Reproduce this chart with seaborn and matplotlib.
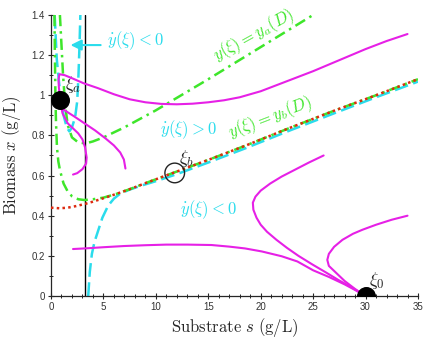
import matplotlib
matplotlib.use("Agg")
import matplotlib.pyplot as plt
import seaborn as sns
from matplotlib.ticker import MultipleLocator, FuncFormatter

# magenta trajectories (substrate s, biomass x)
traj_up_s = [0.88, 0.75, 0.72, 0.8, 1.3, 2.0, 3.1, 4.5, 6.0, 7.5, 9.0, 10.5, 12.0, 13.5, 15.0, 16.5,
             18.0, 20.0, 22.8, 25.0, 27.5, 30.0, 32.0, 34.0]
traj_up_x = [0.98, 1.04, 1.08, 1.105, 1.10, 1.085, 1.06, 1.035, 1.005, 0.98, 0.965, 0.957, 0.955, 0.958,
             0.965, 0.975, 0.99, 1.02, 1.076, 1.12, 1.175, 1.23, 1.27, 1.305]
traj_d_s = [0.86, 1.15, 2.2, 3.2, 4.2, 5.2, 6.0, 6.6, 6.95, 7.1]
traj_d_x = [0.975, 0.93, 0.895, 0.86, 0.825, 0.785, 0.75, 0.715, 0.68, 0.635]
traj_e_s = [0.86, 1.1, 1.6, 2.1, 2.6, 3.0, 3.25, 3.4, 3.35, 3.0, 2.5, 2.1]
traj_e_x = [0.975, 0.91, 0.86, 0.835, 0.81, 0.78, 0.74, 0.69, 0.66, 0.632, 0.612, 0.605]
traj_flat_s = [2.1, 3.2, 5.0, 7.0, 9.0, 11.0, 13.0, 15.3, 17.0, 18.5, 20.1, 22.0, 23.5, 25.0, 26.5,
               28.0, 29.0, 30.0]
traj_flat_x = [0.234, 0.237, 0.243, 0.249, 0.253, 0.256, 0.256, 0.254, 0.246, 0.237, 0.222, 0.198,
               0.172, 0.128, 0.095, 0.058, 0.03, 0.0]
traj_a_s = [26.0, 24.6, 23.3, 22.0, 20.9, 20.0, 19.5, 19.25, 19.3, 19.6, 20.0, 20.6, 21.5, 22.5,
            23.6, 24.9, 26.2, 27.4, 28.6, 30.0]
traj_a_x = [0.70, 0.665, 0.63, 0.595, 0.56, 0.525, 0.495, 0.465, 0.43, 0.39, 0.355, 0.32, 0.28, 0.24,
            0.2, 0.158, 0.118, 0.08, 0.045, 0.0]
traj_c_s = [34.0, 32.5, 31.0, 29.7, 28.8, 27.8, 27.0, 26.5, 26.35, 26.5, 27.2, 28.0, 29.0, 30.0]
traj_c_x = [0.40, 0.38, 0.355, 0.33, 0.31, 0.28, 0.245, 0.21, 0.18, 0.15, 0.115, 0.075, 0.035, 0.0]

# ydot = 0 curves (cyan)
ydot_loop_s = [0.35, 0.55, 0.85, 1.2, 1.5, 1.75, 2.0, 2.3, 2.5, 2.62, 2.72, 2.8]
ydot_loop_x = [1.4, 1.18, 1.02, 0.9, 0.84, 0.82, 0.84, 0.89, 0.97, 1.1, 1.25, 1.4]
ydot_low_s = [3.55, 3.7, 3.9, 4.15, 4.4, 4.9, 5.45, 6.0, 6.6, 7.5, 8.5, 10.0, 12.0, 15.0, 18.5,
              22.8, 27.0, 31.0, 35.0]
ydot_low_x = [0.0, 0.12, 0.21, 0.27, 0.31, 0.39, 0.45, 0.485, 0.51, 0.53, 0.548, 0.572, 0.607, 0.665,
              0.735, 0.825, 0.91, 0.99, 1.068]

# y = y_a(D) and y = y_b(D) level curves (green)
ya_s = [0.85, 1.0, 1.15, 1.35, 1.6, 2.0, 2.6, 3.3, 4.0, 5.0, 7.0, 10.0, 15.0, 20.0, 25.0]
ya_x = [1.4, 1.25, 1.1, 0.95, 0.85, 0.79, 0.765, 0.76, 0.77, 0.79, 0.84, 0.925, 1.08, 1.24, 1.4]
yb_s = [0.33, 0.37, 0.42, 0.48, 0.57, 0.7, 0.86, 1.2, 1.6, 2.0, 2.6, 3.2, 4.0, 5.0, 6.2, 7.5, 9.0,
        12.0, 15.0, 18.5, 22.8, 27.0, 31.0, 35.0]
yb_x = [1.4, 1.2, 1.0, 0.86, 0.74, 0.67, 0.625, 0.56, 0.52, 0.497, 0.482, 0.478, 0.482, 0.49, 0.508,
        0.532, 0.562, 0.62, 0.678, 0.748, 0.838, 0.923, 1.0, 1.08]

# red dotted curve
red_s = [0.0, 0.8, 1.6, 2.4, 3.2, 4.0, 5.0, 6.2, 7.5, 9.0, 12.0, 15.0, 18.5, 22.8, 27.0, 31.0, 35.0]
red_x = [0.44, 0.437, 0.44, 0.448, 0.458, 0.47, 0.487, 0.508, 0.532, 0.562, 0.62, 0.678, 0.748,
         0.838, 0.923, 1.0, 1.08]

s_in = 3.2  # vertical line
xi_a = (0.86, 0.975)
xi_b = (11.8, 0.613)
xi_0 = (30.0, 0.0)

MAG = "#e620e6"
CYAN = "#2adcec"
GREEN = "#3ee62a"
RED = "#dd2a10"

sns.set_style("ticks")
plt.rcParams["mathtext.fontset"] = "cm"
plt.rcParams["font.family"] = ["Liberation Sans", "DejaVu Sans"]

fig = plt.figure(figsize=(4.25, 3.4), dpi=100)
ax = fig.add_axes([0.12, 0.1294, 0.8635, 0.8266])


def curve(s, x, color, ls="-", lw=1.5, z=2):
    sns.lineplot(x=s, y=x, ax=ax, color=color, linestyle=ls, linewidth=lw,
                 sort=False, estimator=None, errorbar=None, zorder=z)


ax.axvline(s_in, color="black", lw=1.0, zorder=1)

curve(ydot_loop_s, ydot_loop_x, CYAN, ls=(0, (5.5, 2.2)), lw=1.8, z=2)
curve(ydot_low_s, ydot_low_x, CYAN, ls=(0, (5.5, 2.2)), lw=1.8, z=2)
curve(ya_s, ya_x, GREEN, ls=(0, (4.5, 2, 1, 2)), lw=1.8, z=3)
curve(yb_s, yb_x, GREEN, ls=(0, (4.5, 2, 1, 2)), lw=1.8, z=3)
curve(red_s, red_x, RED, ls=(0, (1, 1.3)), lw=1.8, z=4)

for s, x in [(traj_up_s, traj_up_x), (traj_d_s, traj_d_x), (traj_e_s, traj_e_x),
             (traj_flat_s, traj_flat_x), (traj_a_s, traj_a_x), (traj_c_s, traj_c_x)]:
    curve(s, x, MAG, lw=1.5, z=5)

sns.scatterplot(x=[xi_a[0], xi_0[0]], y=[xi_a[1], xi_0[1]], ax=ax, s=160, color="black",
                edgecolor="black", zorder=6)
sns.scatterplot(x=[xi_b[0]], y=[xi_b[1]], ax=ax, s=200, facecolor="none",
                edgecolor="#222222", linewidth=1.0, zorder=6)

ax.annotate("", xy=(1.6, 1.25), xytext=(5.0, 1.25),
            arrowprops=dict(arrowstyle="-|>", color=CYAN, lw=1.5, mutation_scale=16))

ax.text(5.3, 1.27, r"$\dot{y}(\xi) < 0$", color=CYAN, fontsize=12, va="center", ha="left")
ax.text(10.4, 0.83, r"$\dot{y}(\xi) > 0$", color=CYAN, fontsize=12, va="center", ha="left")
ax.text(12.3, 0.43, r"$\dot{y}(\xi) < 0$", color=CYAN, fontsize=12, va="center", ha="left")
ax.text(15.8, 1.17, r"$y(\xi) = y_a(D)$", color=GREEN, fontsize=12, rotation=29,
        rotation_mode="anchor", ha="left", va="baseline", clip_on=False)
ax.text(17.1, 0.79, r"$y(\xi) = y_b(D)$", color=GREEN, fontsize=12, rotation=21,
        rotation_mode="anchor", ha="left", va="baseline")
ax.text(1.3, 1.03, r"$\xi_a$", fontsize=13, ha="left", va="baseline")
ax.text(12.2, 0.665, r"$\xi_b$", fontsize=13, ha="left", va="baseline")
ax.text(30.3, 0.055, r"$\xi_0$", fontsize=13, ha="left", va="baseline")

ax.set_xlim(0, 35)
ax.set_ylim(0, 1.4)
ax.xaxis.set_major_locator(MultipleLocator(5))
ax.xaxis.set_minor_locator(MultipleLocator(1))
ax.yaxis.set_major_locator(MultipleLocator(0.2))
ax.yaxis.set_minor_locator(MultipleLocator(0.1))
ax.yaxis.set_major_formatter(FuncFormatter(lambda v, p: f"{v:g}"))
ax.tick_params(which="major", direction="inout", length=5, width=0.8, labelsize=7,
               labelcolor="#333333", pad=2)
ax.tick_params(which="minor", direction="inout", length=3, width=0.7)
sns.despine(ax=ax)
for sp in ax.spines.values():
    sp.set_linewidth(0.9)

ax.set_xlabel(r"$\mathrm{Substrate}\ s\ \mathrm{(g/L)}$", fontsize=12, labelpad=3)
ax.set_ylabel(r"$\mathrm{Biomass}\ x\ \mathrm{(g/L)}$", fontsize=12, labelpad=6)

fig.savefig("out.png", dpi=100)
